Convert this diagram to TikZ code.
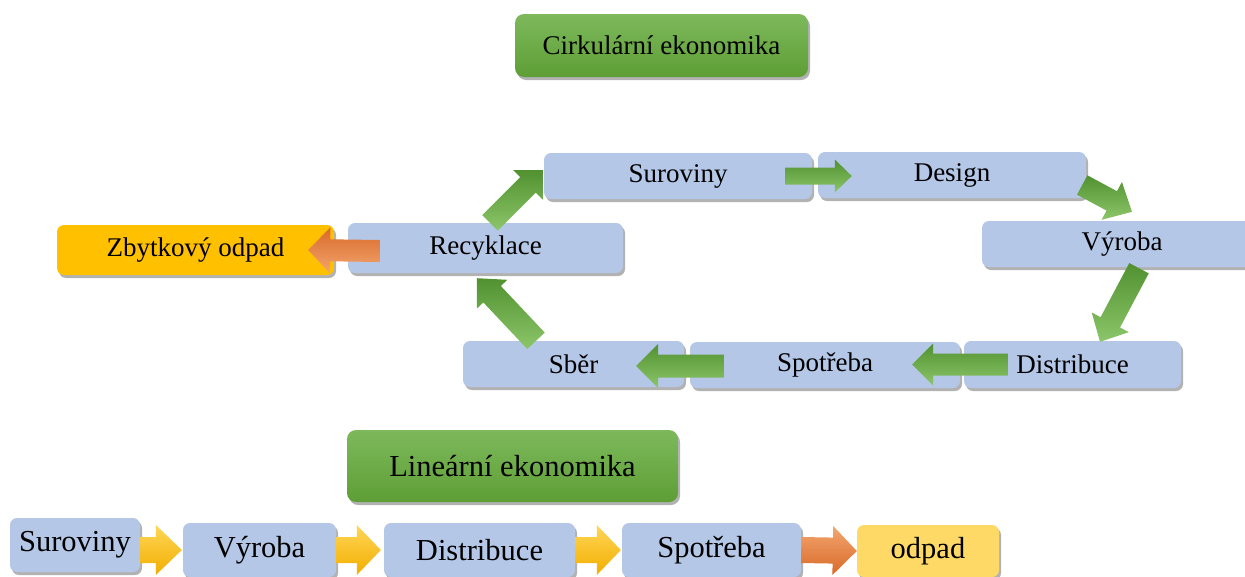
\documentclass[tikz,border=0pt]{standalone}
\usepackage{fontspec}
\setmainfont{Liberation Serif}
\usetikzlibrary{calc,shadows}
\definecolor{boxblue}{HTML}{B4C7E7}
\definecolor{goldbox}{HTML}{FFC000}
\definecolor{lightgold}{HTML}{FFD966}
\definecolor{gtop}{HTML}{7DB95C}
\definecolor{gbot}{HTML}{5E9E35}
\definecolor{agdark}{HTML}{519130}
\definecolor{aglight}{HTML}{8CC66A}
\definecolor{ordark}{HTML}{D9692A}
\definecolor{orlight}{HTML}{F3A66E}
\definecolor{yltop}{HTML}{FFD657}
\definecolor{ylbot}{HTML}{F2AE00}
\newcommand\myblockarr[6]{%
  \coordinate (hb) at ($(#3)!#6!(#2)$);
  \path[#1] ($(#2)!#4!90:(#3)$) -- ($(hb)!#4!90:(#3)$) -- ($(hb)!#5!90:(#3)$)
    -- (#3) -- ($(hb)!#5!-90:(#3)$) -- ($(hb)!#4!-90:(#3)$) -- ($(#2)!#4!-90:(#3)$) -- cycle;
}
\tikzset{
  shad/.style={drop shadow={shadow xshift=2pt, shadow yshift=-3pt, opacity=0.3, fill=black}},
  bx/.style={rounded corners=7pt, fill=boxblue, shad, inner sep=0pt,
    font=\fontsize{27}{30}\selectfont},
  bbx/.style={bx, font=\fontsize{30.5}{33}\selectfont},
  ttl/.style={rounded corners=9pt, shad, top color=gtop, bottom color=gbot, inner sep=0pt},
  garr/.style={top color=agdark, bottom color=aglight},
  oarr/.style={top color=ordark, bottom color=orlight},
  obarr/.style={top color=orlight, bottom color=ordark},
  yarr/.style={top color=yltop, bottom color=ylbot},
}
\begin{document}
\begin{tikzpicture}[x=1pt,y=-1pt]
\useasboundingbox (0,0) rectangle (1245,576);
\fill[white] (0,0) rectangle (1245,576);
% titles
\node[ttl, minimum width=293pt, minimum height=63pt, font=\fontsize{27}{30}\selectfont] (tc) at (661.5,45.5) {Cirkulární ekonomika};
\node[ttl, minimum width=331pt, minimum height=72pt, font=\fontsize{30.5}{33}\selectfont] (tl) at (512.5,466) {Lineární ekonomika};
% cycle boxes
\node[bx, minimum width=268pt, minimum height=46pt] (sur) at (678,176) {Suroviny};
\node[bx, minimum width=268pt, minimum height=46pt] (des) at (952,175) {Design};
\node[bx, minimum width=280pt, minimum height=46pt] (vyr) at (1122,244) {Výroba};
\node[bx, minimum width=217pt, minimum height=47pt] (dis) at (1072.5,364.5) {Distribuce};
\node[bx, minimum width=270pt, minimum height=46pt] (spo) at (825,365) {Spotřeba};
\node[bx, minimum width=221pt, minimum height=46pt] (sbe) at (573.5,364) {Sběr};
\node[bx, minimum width=275pt, minimum height=50pt] (rec) at (485.5,248) {Recyklace};
\node[bx, fill=goldbox, minimum width=277pt, minimum height=50pt] (zby) at (195.5,250) {Zbytkový odpad};
% linear boxes
\node[bbx, minimum width=130pt, minimum height=54pt] (bsur) at (75,545) {Suroviny};
\node[bbx, minimum width=153pt, minimum height=54pt] (bvyr) at (259.5,550) {Výroba};
\node[bbx, minimum width=191pt, minimum height=54pt] (bdis) at (479.5,550) {Distribuce};
\node[bbx, minimum width=179pt, minimum height=54pt] (bspo) at (711.5,550) {Spotřeba};
\node[bbx, fill=lightgold, minimum width=142pt, minimum height=52pt] (bodp) at (928,551) {odpad};
% arrow end points
\coordinate (a1s) at ($(sur.east)+(-27,0)$);
\coordinate (a1e) at ($(des.west)+(34,1)$);
\coordinate (a2s) at ($(des.east)+(-4,10)$);
\coordinate (a2e) at ($(vyr.north)+(10,-9)$);
\coordinate (a3s) at ($(vyr.south)+(17,1)$);
\coordinate (a3e) at ($(dis.north)+(27.5,1)$);
\coordinate (a4s) at ($(dis.west)+(44,0)$);
\coordinate (a4e) at ($(spo.east)+(-48,-0.5)$);
\coordinate (a5s) at ($(spo.west)+(34,1)$);
\coordinate (a5e) at ($(sbe.east)+(-48,2)$);
\coordinate (a6s) at ($(sbe.north)+(-37.5,0)$);
\coordinate (a6e) at ($(rec.south)+(-8.5,5)$);
\coordinate (a7s) at ($(rec.north)+(4.5,0)$);
\coordinate (a7e) at ($(sur.west)+(-1,-6)$);
\coordinate (a8s) at ($(rec.west)+(32,3)$);
\coordinate (a8e) at ($(zby.east)+(-26,0)$);
\coordinate (b1s) at ($(bsur.east)+(0,5)$);
\coordinate (b1e) at ($(bvyr.west)+(-1,0)$);
\coordinate (b2s) at (bvyr.east);
\coordinate (b2e) at ($(bdis.west)+(-3,0)$);
\coordinate (b3s) at (bdis.east);
\coordinate (b3e) at ($(bspo.west)+(-1,0)$);
\coordinate (b4s) at (bspo.east);
\coordinate (b4e) at (bodp.west);
% arrows
\myblockarr{garr}{a1s}{a1e}{8.5pt}{16.5pt}{17pt}
\myblockarr{garr}{a2s}{a2e}{11pt}{21.5pt}{23pt}
\myblockarr{garr}{a3s}{a3e}{11pt}{21pt}{22pt}
\myblockarr{garr}{a4s}{a4e}{11pt}{21pt}{21pt}
\myblockarr{garr}{a5s}{a5e}{11.5pt}{22pt}{22pt}
\myblockarr{garr}{a6s}{a6e}{12pt}{21pt}{22pt}
\myblockarr{garr}{a7s}{a7e}{11pt}{21pt}{21pt}
\myblockarr{oarr}{a8s}{a8e}{11pt}{23pt}{22pt}
\myblockarr{yarr}{b1s}{b1e}{13pt}{25pt}{26pt}
\myblockarr{yarr}{b2s}{b2e}{13pt}{25pt}{24pt}
\myblockarr{yarr}{b3s}{b3e}{13pt}{25pt}{24pt}
\myblockarr{obarr}{b4s}{b4e}{13pt}{24.5pt}{24pt}
\end{tikzpicture}
\end{document}
